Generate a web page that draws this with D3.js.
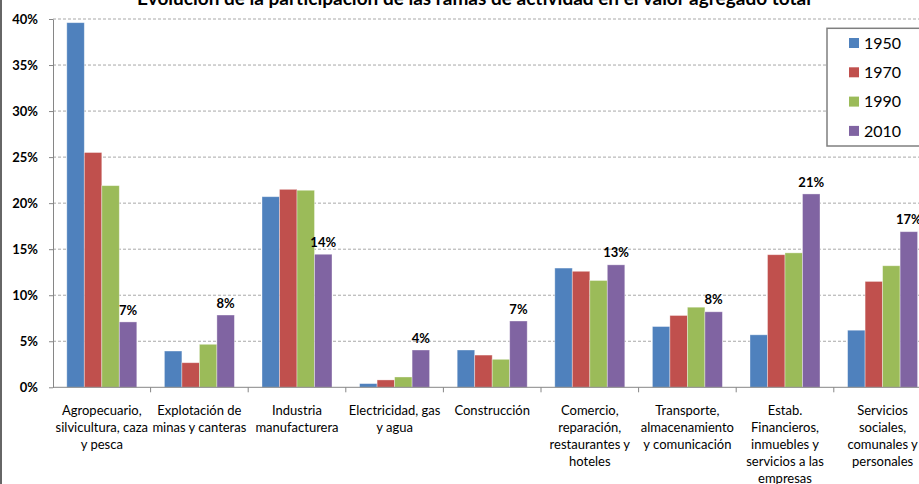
<!DOCTYPE html>
<html><head><meta charset="utf-8">
<script src="https://cdn.jsdelivr.net/npm/d3@7/dist/d3.min.js"></script>
<style>body{margin:0;background:#fff;overflow:hidden} svg{display:block}</style>
</head><body>
<script>
const title = "Evolución de la participación de las ramas de actividad en el valor agregado total";
const categories = [
  "Agropecuario,|silvicultura, caza|y pesca",
  "Explotación de|minas y canteras",
  "Industria|manufacturera",
  "Electricidad, gas|y agua",
  "Construcción",
  "Comercio,|reparación,|restaurantes y|hoteles",
  "Transporte,|almacenamiento|y comunicación",
  "Estab.|Financieros,|inmuebles y|servicios a las|empresas",
  "Servicios|sociales,|comunales y|personales"
];
const years = ["1950", "1970", "1990", "2010"];
const v1950 = [0.396, 0.0394, 0.207, 0.004, 0.0405, 0.1295, 0.066, 0.057, 0.062];
const v1970 = [0.255, 0.0267, 0.215, 0.008, 0.035, 0.126, 0.078, 0.144, 0.115];
const v1990 = [0.219, 0.0467, 0.214, 0.0112, 0.0304, 0.116, 0.087, 0.146, 0.132];
const v2010 = [0.071, 0.0785, 0.1445, 0.0405, 0.072, 0.133, 0.082, 0.210, 0.169];
const yTicks = [0, 0.05, 0.10, 0.15, 0.20, 0.25, 0.30, 0.35, 0.40];
const colors = ["#4F81BD", "#C0504D", "#9BBB59", "#8064A2"];

const series = [v1950, v1970, v1990, v2010];
const W = 919, H = 484;
const FONT = "Lato, 'Open Sans', sans-serif";

const svg = d3.select("body").append("svg").attr("width", W).attr("height", H)
  .style("font-family", FONT);

const step = 97.6, x0 = 53;
const x = d3.scaleBand().domain(categories).range([x0, x0 + step * categories.length]).padding(0);
const gap = 13.8;
const xi = d3.scaleBand().domain(years).range([gap, x.bandwidth() - gap]).padding(0);
const y = d3.scaleLinear().domain([0, 0.40]).range([387.3, 19]);

// left chart border
svg.append("line").attr("x1", 1).attr("x2", 1).attr("y1", 0).attr("y2", H)
  .attr("stroke", "#666").attr("stroke-width", 2);

// gridlines
svg.append("g").selectAll("line").data(yTicks.filter(d => d > 0)).join("line")
  .attr("x1", x0).attr("x2", W).attr("y1", d => y(d)).attr("y2", d => y(d))
  .attr("stroke", "#a8a8a8").attr("stroke-width", 1).attr("stroke-dasharray", "3,2");

// y axis
const yAxis = svg.append("g").attr("transform", `translate(${x0},0)`)
  .call(d3.axisLeft(y).tickValues(yTicks).tickFormat(d3.format(".0%")).tickSize(4).tickPadding(11).tickSizeOuter(0));
yAxis.select(".domain").attr("stroke", "#868686");
yAxis.selectAll(".tick line").attr("stroke", "#868686");
yAxis.selectAll(".tick text").attr("font-size", 13).attr("font-weight", "bold")
  .attr("font-family", FONT).attr("fill", "#000");

// bars
const groups = svg.append("g").selectAll("g").data(categories).join("g")
  .attr("transform", d => `translate(${x(d)},0)`);
groups.selectAll("rect").data((c, i) => years.map((yr, k) => ({yr, k, v: series[k][i]}))).join("rect")
  .attr("x", d => xi(d.yr)).attr("width", xi.bandwidth())
  .attr("y", d => y(d.v)).attr("height", d => y(0) - y(d.v))
  .attr("fill", d => colors[d.k])
  .attr("stroke", "rgba(255,255,255,0.45)").attr("stroke-width", 0.8);

// data labels on 2010
groups.append("text").datum((c, i) => v2010[i])
  .attr("x", xi("2010") + xi.bandwidth() / 2).attr("y", d => y(d) - 7.4)
  .attr("text-anchor", "middle").attr("font-size", 13).attr("font-weight", "bold")
  .text(d => d3.format(".0%")(d));

// x axis
svg.append("line").attr("x1", x0).attr("x2", W).attr("y1", y(0)).attr("y2", y(0))
  .attr("stroke", "#868686");
svg.append("g").selectAll("line").data(categories.slice(1)).join("line")
  .attr("x1", d => x(d)).attr("x2", d => x(d)).attr("y1", y(0)).attr("y2", y(0) + 5)
  .attr("stroke", "#868686");

// category labels
groups.append("text").attr("text-anchor", "middle").attr("font-size", 13).attr("fill", "#000")
  .each(function(c) {
    const t = d3.select(this);
    c.split("|").forEach((ln, j) => {
      t.append("tspan").attr("x", x.bandwidth() / 2).attr("y", 414.5 + j * 17).text(ln);
    });
  });

// title
svg.append("text").attr("x", 474).attr("y", 5).attr("text-anchor", "middle")
  .attr("font-size", 19).attr("font-weight", "bold").text(title);

// legend
const lg = svg.append("g");
lg.append("rect").attr("x", 827).attr("y", 28.3).attr("width", 110).attr("height", 117.7)
  .attr("fill", "#fff").attr("stroke", "#7f7f7f").attr("stroke-width", 1.5);
const li = lg.selectAll("g").data(years).join("g")
  .attr("transform", (d, i) => `translate(849,${43 + i * 29.3})`);
li.append("rect").attr("x", 0).attr("y", -5).attr("width", 10).attr("height", 10)
  .attr("fill", (d, i) => colors[i]);
li.append("text").attr("x", 15).attr("y", 0).attr("dy", "0.36em").attr("font-size", 16)
  .attr("fill", "#000").text(d => d);
</script>
</body></html>
